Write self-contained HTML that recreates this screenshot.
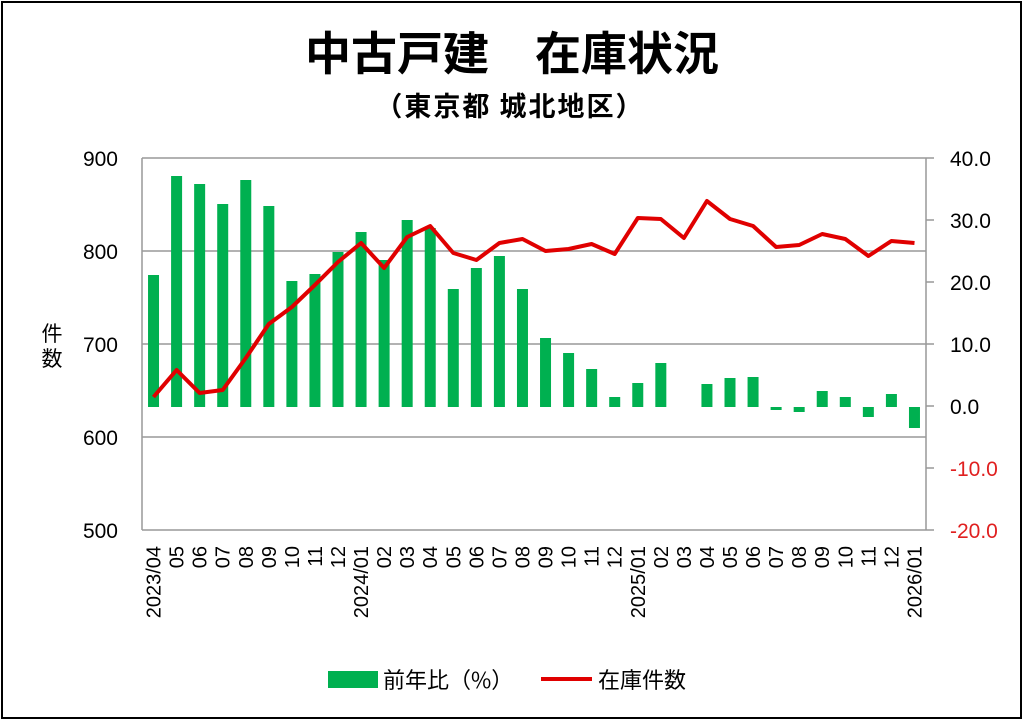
<!DOCTYPE html>
<html><head><meta charset="utf-8"><style>
body{margin:0;background:#fff;}
svg{display:block;font-family:"Liberation Sans","Noto Sans CJK JP",sans-serif;}
</style></head><body>
<svg id="s" width="1024" height="721" viewBox="0 0 1024 721" xmlns="http://www.w3.org/2000/svg">
<rect x="2" y="2" width="1019" height="716" fill="#fff" stroke="#000" stroke-width="2"/>
<text x="512" y="70" text-anchor="middle" font-size="46" font-weight="bold" font-family="Noto Sans CJK JP,sans-serif">中古戸建　在庫状況</text>
<text x="510" y="116" text-anchor="middle" font-size="27" font-weight="bold" letter-spacing="2" font-family="Noto Sans CJK JP,sans-serif">（東京都 城北地区）</text>
<g stroke="#999" stroke-width="1.5">
<line x1="142" y1="158" x2="926" y2="158"/>
<line x1="142" y1="251" x2="926" y2="251"/>
<line x1="142" y1="344" x2="926" y2="344"/>
<line x1="142" y1="437" x2="926" y2="437"/>
<line x1="142" y1="530" x2="926" y2="530"/>
<line x1="142" y1="158" x2="142" y2="530"/>
<line x1="926" y1="158" x2="926" y2="530"/>
<line x1="926" y1="158" x2="934" y2="158"/><line x1="926" y1="220" x2="934" y2="220"/>
<line x1="926" y1="282" x2="934" y2="282"/><line x1="926" y1="344" x2="934" y2="344"/>
<line x1="926" y1="406" x2="934" y2="406"/><line x1="926" y1="468" x2="934" y2="468"/>
<line x1="926" y1="530" x2="934" y2="530"/>
</g>
<g font-size="21" text-anchor="end">
<text x="118" y="166">900</text><text x="118" y="259">800</text><text x="118" y="352">700</text><text x="118" y="445">600</text><text x="118" y="538">500</text>
</g>
<g font-size="21">
<text x="950" y="166">40.0</text><text x="950" y="228">30.0</text><text x="950" y="290">20.0</text><text x="950" y="352">10.0</text><text x="950" y="414">0.0</text>
<text x="950" y="476" fill="#e02020">-10.0</text><text x="950" y="538" fill="#e02020">-20.0</text>
</g>
<text x="52" y="341" font-size="21" text-anchor="middle" font-family="Noto Sans CJK JP,sans-serif">件</text>
<text x="52" y="366" font-size="21" text-anchor="middle" font-family="Noto Sans CJK JP,sans-serif">数</text>
<g id="bars" fill="#00b050"></g>
<polyline id="ln" fill="none" stroke="#e00000" stroke-width="4" stroke-linejoin="round"/>
<g id="xl" font-size="20"></g>
<rect x="328" y="671" width="50" height="17" fill="#00b050"/>
<text x="383" y="688" font-size="22" font-family="Noto Sans CJK JP,sans-serif">前年比（%）</text>
<line x1="541" y1="679" x2="592" y2="679" stroke="#e00000" stroke-width="4"/>
<text x="598" y="688" font-size="22" font-family="Noto Sans CJK JP,sans-serif">在庫件数</text>
</svg>
<script>
var tops=[275,176,184,204,180,206,281,274,252,232,260,220,228,289,268,256,289,338,353,369,397,383,363,407,384,378,377,410,412,391,397,417,394,428];
var ly=[397,370,393,390,358,324,307,285,262,243,268,237,226,253,260,243,239,251,249,244,254,218,219,238,201,219,226,247,245,234,239,256,241,243];
var labs=["2023/04","05","06","07","08","09","10","11","12","2024/01","02","03","04","05","06","07","08","09","10","11","12","2025/01","02","03","04","05","06","07","08","09","10","11","12","2026/01"];
var ns="http://www.w3.org/2000/svg",b=document.getElementById("bars"),xl=document.getElementById("xl"),pts=[];
var base=407;
for(var i=0;i<34;i++){var cx=142+(i+0.5)*784/34;
 var t=tops[i];if(t!=base){var r=document.createElementNS(ns,"rect");r.setAttribute("x",cx-5.5);r.setAttribute("width",11);r.setAttribute("y",Math.min(t,base));r.setAttribute("height",Math.abs(base-t));b.appendChild(r);}
 pts.push(cx.toFixed(1)+","+ly[i]);
 var tx=document.createElementNS(ns,"text");tx.setAttribute("transform","translate("+(cx+7)+",546) rotate(-90)");tx.setAttribute("text-anchor","end");tx.textContent=labs[i];xl.appendChild(tx);}
document.getElementById("ln").setAttribute("points",pts.join(" "));
</script>
</body></html>
